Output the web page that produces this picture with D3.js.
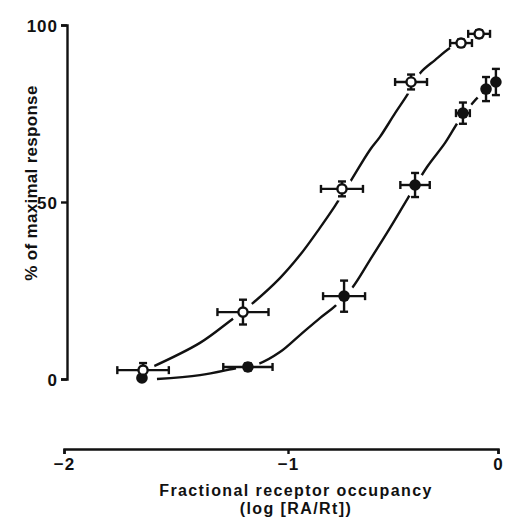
<!DOCTYPE html>
<html>
<head>
<meta charset="utf-8">
<script src="https://cdn.jsdelivr.net/npm/d3@7"></script>
<style>
  html, body { margin: 0; padding: 0; background: #fff; }
  svg { display: block; }
  text { font-family: "Liberation Sans", Arial, Helvetica, sans-serif; font-weight: bold; fill: #111; }
</style>
</head>
<body>
<svg id="chart" width="505" height="520"></svg>
<script>
// ---- data ----
const xTicks = [-2, -1, 0];
const yTicks = [0, 50, 100];

// open circles
const openX    = [-1.647, -1.201, -0.743, -0.414, -0.176, -0.090];
const openY    = [2.5, 18.9, 53.7, 83.9, 94.9, 97.5];
const openXErr = [0.115, 0.114, 0.100, 0.076, 0.052, 0.052];
const openYErr = [2.0, 3.5, 2.1, 2.1, 1.0, 1.0];

// filled circles
const filledX    = [-1.652, -1.179, -0.733, -0.395, -0.167, -0.057, -0.010];
const filledY    = [0.3, 3.4, 23.4, 54.8, 75.1, 81.9, 83.9];
const filledXErr = [0, 0.110, 0.100, 0.070, 0.033, 0, 0];
const filledYErr = [0, 1.0, 4.4, 3.4, 3.0, 3.4, 3.7];

// fitted curves
const openCurveX = [-1.616, -1.393, -1.259, -1.156, -1.036, -0.943, -0.848, -0.776, -0.705, -0.610, -0.562, -0.490, -0.433, -0.371, -0.300, -0.229, -0.176, -0.110];
const openCurveY = [3.1, 10.2, 16.4, 21.5, 28.5, 35.0, 42.7, 48.9, 55.6, 64.7, 68.4, 75.1, 80.2, 86.4, 90.1, 93.5, 95.2, 96.9];
const filledCurveX = [-1.585, -1.393, -1.228, -1.134, -1.036, -0.943, -0.848, -0.776, -0.695, -0.610, -0.514, -0.429, -0.338, -0.252, -0.190, -0.133, -0.086, -0.029];
const filledCurveY = [0, 1.1, 3.1, 4.2, 7.6, 12.4, 17.2, 20.6, 25.7, 33.6, 42.7, 51.1, 59.9, 66.7, 72.6, 77.1, 80.2, 83.1];

const xTitle1 = "Fractional receptor occupancy";
const xTitle2 = "(log [RA/Rt])";
const yTitle = "% of maximal response";

// ---- drawing ----
const svg = d3.select("#chart");
const x = d3.scaleLinear().domain([-2, -1, 0]).range([64, 288, 498]);
const y = d3.scaleLinear().domain([0, 100]).range([379, 25]);

const ink = "#111";

// axes
const xAxis = svg.append("g")
  .attr("transform", "translate(0,449)")
  .call(d3.axisBottom(x).tickValues(xTicks).tickSize(5).tickSizeOuter(5).tickPadding(4).tickFormat(d3.format("d")));
const yAxis = svg.append("g")
  .attr("transform", "translate(67,0)")
  .call(d3.axisLeft(y).tickValues(yTicks).tickSize(6).tickSizeOuter(6).tickPadding(3));
[xAxis, yAxis].forEach(g => {
  g.select(".domain").attr("stroke", ink).attr("stroke-width", 2.4);
  g.selectAll(".tick line").attr("stroke", ink).attr("stroke-width", 2.4);
  g.selectAll(".tick text").style("font-size", "17px").style("font-weight", "bold")
    .style("letter-spacing", "1px")
    .style("font-family", '"Liberation Sans", Arial, sans-serif').attr("fill", ink);
});
yAxis.selectAll(".tick text").attr("dy", "0.36em");

// titles
svg.append("text").attr("x", 296).attr("y", 496).attr("text-anchor", "middle")
  .style("font-size", "16px").style("letter-spacing", "1.4px").text(xTitle1);
svg.append("text").attr("x", 296).attr("y", 514).attr("text-anchor", "middle")
  .style("font-size", "16px").style("letter-spacing", "1.4px").text(xTitle2);
svg.append("text").attr("transform", "translate(37,183) rotate(-90)").attr("text-anchor", "middle")
  .style("font-size", "17px").style("letter-spacing", "0.3px").text(yTitle);

// curves
const line = d3.line().x(d => x(d[0])).y(d => y(d[1])).curve(d3.curveCatmullRom.alpha(0.5));
svg.append("path").datum(d3.zip(openCurveX, openCurveY))
  .attr("d", line).attr("fill", "none").attr("stroke", ink).attr("stroke-width", 2.4);
svg.append("path").datum(d3.zip(filledCurveX, filledCurveY))
  .attr("d", line).attr("fill", "none").attr("stroke", ink).attr("stroke-width", 2.4);

const openPts = openX.map((v, i) => ({x: v, y: openY[i], xe: openXErr[i], ye: openYErr[i], filled: false}));
const filledPts = filledX.map((v, i) => ({x: v, y: filledY[i], xe: filledXErr[i], ye: filledYErr[i], filled: true}));
const all = filledPts.concat(openPts);

// white halos (gaps in curves around markers)
svg.append("g").selectAll("circle").data(all).join("circle")
  .attr("cx", d => x(d.x)).attr("cy", d => y(d.y)).attr("r", 12).attr("fill", "#fff");

// error bars
const cap = 4;
const eb = svg.append("g").attr("stroke", ink).attr("stroke-width", 2.4).attr("fill", "none");
all.forEach(d => {
  const cx = x(d.x), cy = y(d.y);
  if (d.xe > 0) {
    const x0 = x(d.x - d.xe), x1 = x(d.x + d.xe);
    eb.append("line").attr("x1", x0).attr("x2", x1).attr("y1", cy).attr("y2", cy);
    eb.append("line").attr("x1", x0).attr("x2", x0).attr("y1", cy - cap).attr("y2", cy + cap);
    eb.append("line").attr("x1", x1).attr("x2", x1).attr("y1", cy - cap).attr("y2", cy + cap);
  }
  if (d.ye > 0) {
    const y0 = y(d.y - d.ye), y1 = y(d.y + d.ye);
    eb.append("line").attr("x1", cx).attr("x2", cx).attr("y1", y0).attr("y2", y1);
    eb.append("line").attr("x1", cx - cap).attr("x2", cx + cap).attr("y1", y0).attr("y2", y0);
    eb.append("line").attr("x1", cx - cap).attr("x2", cx + cap).attr("y1", y1).attr("y2", y1);
  }
});

// markers
svg.append("g").selectAll("circle").data(all).join("circle")
  .attr("cx", d => x(d.x)).attr("cy", d => y(d.y))
  .attr("r", d => d.filled ? 5.8 : 4.6)
  .attr("fill", d => d.filled ? ink : "#fff")
  .attr("stroke", ink).attr("stroke-width", d => d.filled ? 0 : 2.4);
</script>
</body>
</html>
